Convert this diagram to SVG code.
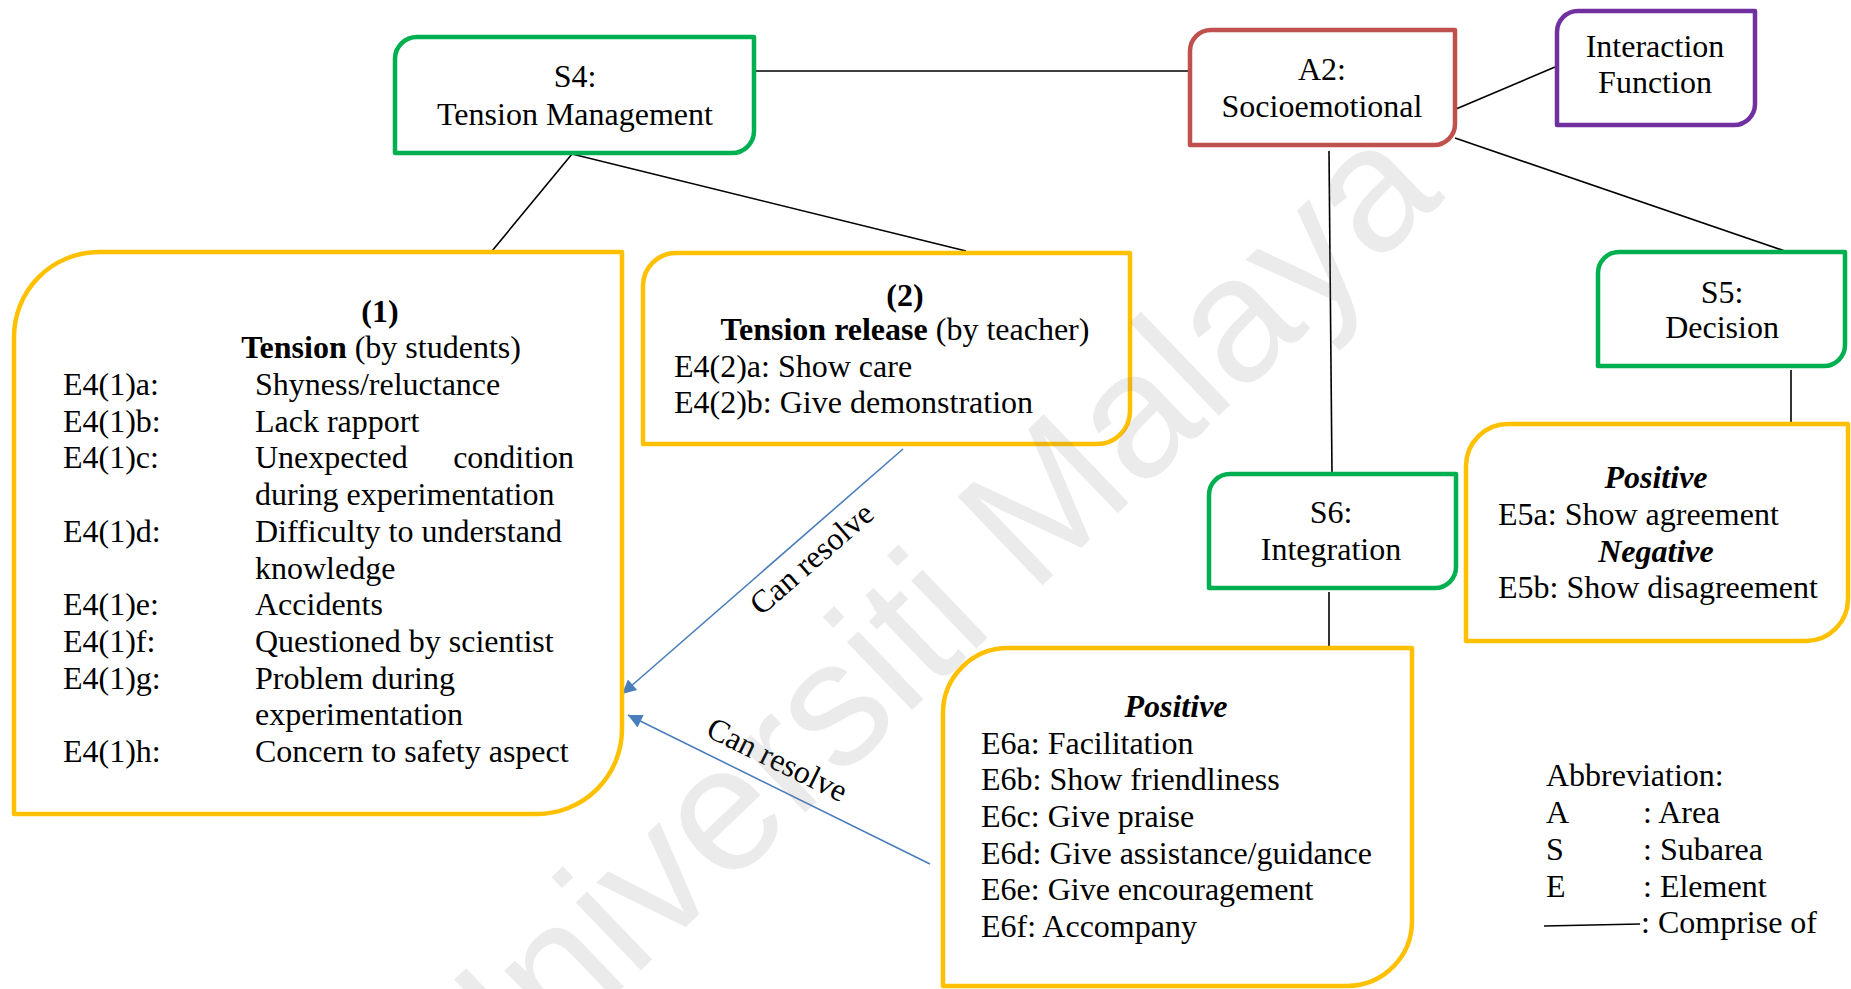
<svg xmlns="http://www.w3.org/2000/svg" width="1851" height="989" viewBox="0 0 1851 989">
  <style>
    .t { font-family: "Liberation Serif", "Times New Roman", serif; font-size: 32px; fill: #000; }
    .c { text-anchor: middle; }
    .b { font-weight: bold; }
    .bi { font-weight: bold; font-style: italic; }
    .box { fill: #fff; stroke-width: 4.5; stroke-linejoin: round; }
    .green { stroke: #00B050; }
    .red { stroke: #C0504D; }
    .purple { stroke: #7030A0; }
    .yellow { stroke: #FFC000; }
    .link { stroke: #000; stroke-width: 1.6; fill: none; }
    .arrow { stroke: #4A7EBB; stroke-width: 1.6; fill: none; marker-end: url(#head); }
    .wm { font-family: "Liberation Sans", Arial, sans-serif; font-size: 178px; fill: #808080; opacity: 0.15; text-anchor: middle; }
  </style>
  <defs>
    <marker id="head" viewBox="0 0 10 10" refX="10" refY="5" markerUnits="userSpaceOnUse" markerWidth="17" markerHeight="14" orient="auto">
      <path d="M0,0 L10,5 L0,10 z" fill="#4A7EBB"/>
    </marker>
  </defs>
  <rect width="1851" height="989" fill="#fff"/>

  <!-- "comprise of" links -->
  <g id="connectors">
    <line class="link" x1="756" y1="71" x2="1188" y2="71"/>
    <line class="link" x1="1456" y1="109" x2="1555" y2="67"/>
    <line class="link" x1="1455" y1="138" x2="1785" y2="251"/>
    <line class="link" x1="1329" y1="151" x2="1332" y2="473"/>
    <line class="link" x1="572" y1="154" x2="492" y2="251"/>
    <line class="link" x1="572" y1="154" x2="966" y2="251"/>
    <line class="link" x1="1791" y1="370" x2="1791" y2="423"/>
    <line class="link" x1="1329" y1="592" x2="1329" y2="648"/>
    <line class="arrow" x1="903" y1="449" x2="622" y2="694"/>
    <line class="arrow" x1="930" y1="864" x2="628" y2="715"/>
    <text class="t c" transform="translate(818.6,566.5) rotate(-41.1)">Can resolve</text>
    <text class="t c" transform="translate(772.6,769) rotate(26.2)">Can resolve</text>
  </g>

  <!-- Subarea S4 -->
  <g id="s4">
    <path class="box green" d="M417,37 H754 V131 A22,22 0 0 1 732,153 H395 V59 A22,22 0 0 1 417,37 Z"/>
    <text class="t c" x="575" y="87">S4:</text>
    <text class="t c" x="575" y="125">Tension Management</text>
  </g>

  <!-- Area A2 -->
  <g id="a2">
    <path class="box red" d="M1211,30 H1455 V124 A21,21 0 0 1 1434,145 H1190 V51 A21,21 0 0 1 1211,30 Z"/>
    <text class="t c" x="1322" y="80">A2:</text>
    <text class="t c" x="1322" y="117">Socioemotional</text>
  </g>

  <!-- Interaction Function -->
  <g id="interaction">
    <path class="box purple" d="M1578,11 H1755 V104 A21,21 0 0 1 1734,125 H1557 V32 A21,21 0 0 1 1578,11 Z"/>
    <text class="t c" x="1655" y="57">Interaction</text>
    <text class="t c" x="1655" y="93">Function</text>
  </g>

  <!-- Subarea S5 -->
  <g id="s5">
    <path class="box green" d="M1619,252 H1845 V345 A21,21 0 0 1 1824,366 H1598 V273 A21,21 0 0 1 1619,252 Z"/>
    <text class="t c" x="1722" y="303">S5:</text>
    <text class="t c" x="1722" y="338">Decision</text>
  </g>

  <!-- Subarea S6 -->
  <g id="s6">
    <path class="box green" d="M1230,474 H1456 V567 A21,21 0 0 1 1435,588 H1209 V495 A21,21 0 0 1 1230,474 Z"/>
    <text class="t c" x="1331" y="523">S6:</text>
    <text class="t c" x="1331" y="560">Integration</text>
  </g>

  <!-- (1) Tension -->
  <g id="tension">
    <path class="box yellow" d="M99,252 H622 V729 A85,85 0 0 1 537,814 H14 V337 A85,85 0 0 1 99,252 Z"/>
    <text class="t c b" x="380" y="322">(1)</text>
    <text class="t c" x="381" y="358"><tspan class="b">Tension</tspan> (by students)</text>
    <g class="t">
      <text x="63" y="395">E4(1)a:</text><text x="255" y="395">Shyness/reluctance</text>
      <text x="63" y="431.7">E4(1)b:</text><text x="255" y="431.7">Lack rapport</text>
      <text x="63" y="468.4">E4(1)c:</text><text x="255" y="468.4">Unexpected</text><text x="574" y="468.4" text-anchor="end">condition</text>
      <text x="255" y="505.1">during experimentation</text>
      <text x="63" y="541.8">E4(1)d:</text><text x="255" y="541.8">Difficulty to understand</text>
      <text x="255" y="578.5">knowledge</text>
      <text x="63" y="615.2">E4(1)e:</text><text x="255" y="615.2">Accidents</text>
      <text x="63" y="651.9">E4(1)f:</text><text x="255" y="651.9">Questioned by scientist</text>
      <text x="63" y="688.6">E4(1)g:</text><text x="255" y="688.6">Problem during</text>
      <text x="255" y="725.3">experimentation</text>
      <text x="63" y="762">E4(1)h:</text><text x="255" y="762">Concern to safety aspect</text>
    </g>
  </g>

  <!-- (2) Tension release -->
  <g id="release">
    <path class="box yellow" d="M676,253 H1130 V411 A33,33 0 0 1 1097,444 H643 V286 A33,33 0 0 1 676,253 Z"/>
    <text class="t c b" x="905" y="306">(2)</text>
    <text class="t c" x="905" y="340"><tspan class="b">Tension release</tspan> (by teacher)</text>
    <text class="t" x="674" y="377">E4(2)a: Show care</text>
    <text class="t" x="674" y="413">E4(2)b: Give demonstration</text>
  </g>

  <!-- S5 elements -->
  <g id="decision-elements">
    <path class="box yellow" d="M1508,424 H1848 V599 A42,42 0 0 1 1806,641 H1466 V466 A42,42 0 0 1 1508,424 Z"/>
    <text class="t c bi" x="1656" y="488">Positive</text>
    <text class="t" x="1498" y="525">E5a: Show agreement</text>
    <text class="t c bi" x="1656" y="562">Negative</text>
    <text class="t" x="1498" y="598">E5b: Show disagreement</text>
  </g>

  <!-- S6 elements -->
  <g id="integration-elements">
    <path class="box yellow" d="M1008,648 H1412 V921 A65,65 0 0 1 1347,986 H943 V713 A65,65 0 0 1 1008,648 Z"/>
    <text class="t c bi" x="1176" y="717">Positive</text>
    <g class="t">
      <text x="981" y="753.5">E6a: Facilitation</text>
      <text x="981" y="790.2">E6b: Show friendliness</text>
      <text x="981" y="826.9">E6c: Give praise</text>
      <text x="981" y="863.6">E6d: Give assistance/guidance</text>
      <text x="981" y="900.3">E6e: Give encouragement</text>
      <text x="981" y="937">E6f: Accompany</text>
    </g>
  </g>

  <!-- Legend -->
  <g id="legend" class="t">
    <text x="1546" y="786">Abbreviation:</text>
    <text x="1546" y="823">A</text><text x="1643" y="823">: Area</text>
    <text x="1546" y="859.5">S</text><text x="1643" y="859.5">: Subarea</text>
    <text x="1546" y="896.5">E</text><text x="1643" y="896.5">: Element</text>
    <line class="link" x1="1544" y1="926" x2="1640" y2="924"/>
    <text x="1641" y="933">: Comprise of</text>
  </g>

  <!-- page watermark -->
  <text class="wm" transform="translate(957,667) rotate(-43.8)">Universiti Malaya</text>
</svg>
